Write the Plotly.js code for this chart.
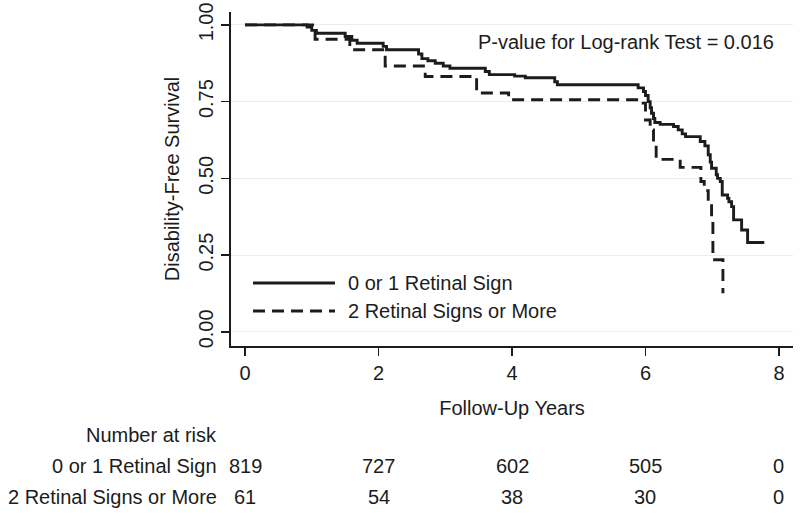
<!DOCTYPE html>
<html>
<head>
<meta charset="utf-8">
<script src="https://cdn.plot.ly/plotly-3.0.1.min.js"></script>
<style>
  html, body { margin: 0; padding: 0; background: #ffffff; }
  #chart { width: 800px; height: 516px; }
</style>
</head>
<body>
<div id="chart"></div>
<script>
// ---- Data ----
var groupNames = ["0 or 1 Retinal Sign", "2 Retinal Signs or More"];

// Kaplan-Meier step points: group 0 or 1 retinal sign
var timeLow = [0, 0.93, 1.0, 1.07, 1.5, 1.6, 1.68, 2.07, 2.12, 2.6, 2.65, 2.74, 2.85, 2.97, 3.07,
               3.6, 3.66, 4.04, 4.2, 4.64, 4.68, 5.89, 5.97, 6.0, 6.04, 6.07, 6.09, 6.12, 6.14,
               6.22, 6.42, 6.49, 6.55, 6.6, 6.82, 6.89, 6.94, 6.97, 6.99, 7.06, 7.08, 7.12, 7.15,
               7.23, 7.25, 7.29, 7.32, 7.44, 7.53, 7.78];
var survLow = [1.0, 0.993, 0.982, 0.973, 0.962, 0.95, 0.94, 0.93, 0.919, 0.905, 0.89, 0.883, 0.875, 0.866, 0.859,
               0.848, 0.838, 0.833, 0.828, 0.815, 0.805, 0.795, 0.783, 0.77, 0.75, 0.73, 0.712, 0.695, 0.682,
               0.676, 0.669, 0.658, 0.645, 0.636, 0.62, 0.606, 0.577, 0.553, 0.533, 0.512, 0.5, 0.49, 0.446,
               0.435, 0.424, 0.408, 0.365, 0.332, 0.291, 0.291];

// Kaplan-Meier step points: group 2 retinal signs or more
var timeHigh = [0, 1.05, 1.57, 2.10, 2.70, 3.47, 3.95, 5.94, 6.0, 6.07, 6.12, 6.16, 6.52,
                6.83, 6.88, 6.94, 6.99, 7.01, 7.16];
var survHigh = [1.0, 0.953, 0.919, 0.866, 0.832, 0.778, 0.756, 0.745, 0.69, 0.658, 0.615, 0.562, 0.536,
                0.49, 0.46, 0.42, 0.36, 0.235, 0.126];

// Number at risk table
var riskTimes = [0, 2, 4, 6, 8];
var riskLow = [819, 727, 602, 505, 0];
var riskHigh = [61, 54, 38, 30, 0];

var pValueText = "P-value for Log-rank Test = 0.016";
var xTitle = "Follow-Up Years";
var yTitle = "Disability-Free Survival";
var riskTitle = "Number at risk";

// ---- Layout geometry (pixels) ----
var W = 800, H = 516;
var mL = 231, mR = 7, mT = 12, mB = 170;
var pw = W - mL - mR, ph = H - mT - mB;
function px2paperX(px) { return (px - mL) / pw; }
function px2paperY(py) { return (H - mB - py) / ph; }

var FONT = "Liberation Sans, Arial, Helvetica, sans-serif";
var INK = "#1c1c1c";

var traces = [
  {
    x: timeLow, y: survLow, type: "scatter", mode: "lines", name: groupNames[0],
    line: { shape: "hv", color: INK, width: 2.9 }, showlegend: false, hoverinfo: "x+y"
  },
  {
    x: timeHigh, y: survHigh, type: "scatter", mode: "lines", name: groupNames[1],
    line: { shape: "hv", color: INK, width: 2.9, dash: "12px,7px" }, showlegend: false, hoverinfo: "x+y"
  }
];

var annotations = [];
annotations.push({
  xref: "paper", yref: "paper", x: px2paperX(776), y: px2paperY(42),
  xanchor: "right", yanchor: "middle", showarrow: false, text: pValueText,
  font: { family: FONT, size: 20, color: INK }
});
// legend texts
annotations.push({
  xref: "paper", yref: "paper", x: px2paperX(346), y: px2paperY(283),
  xanchor: "left", yanchor: "middle", showarrow: false, text: groupNames[0],
  font: { family: FONT, size: 20, color: INK }
});
annotations.push({
  xref: "paper", yref: "paper", x: px2paperX(346), y: px2paperY(311),
  xanchor: "left", yanchor: "middle", showarrow: false, text: groupNames[1],
  font: { family: FONT, size: 20, color: INK }
});
// risk table
annotations.push({
  xref: "paper", yref: "paper", x: px2paperX(219), y: px2paperY(435),
  xanchor: "right", yanchor: "middle", showarrow: false, text: riskTitle,
  font: { family: FONT, size: 20, color: INK }
});
annotations.push({
  xref: "paper", yref: "paper", x: px2paperX(219), y: px2paperY(466),
  xanchor: "right", yanchor: "middle", showarrow: false, text: groupNames[0],
  font: { family: FONT, size: 20, color: INK }
});
annotations.push({
  xref: "paper", yref: "paper", x: px2paperX(219), y: px2paperY(497),
  xanchor: "right", yanchor: "middle", showarrow: false, text: groupNames[1],
  font: { family: FONT, size: 20, color: INK }
});
for (var i = 0; i < riskTimes.length; i++) {
  annotations.push({
    xref: "x", yref: "paper", x: riskTimes[i], y: px2paperY(466),
    xanchor: "center", yanchor: "middle", showarrow: false, text: String(riskLow[i]),
    font: { family: FONT, size: 20, color: INK }
  });
  annotations.push({
    xref: "x", yref: "paper", x: riskTimes[i], y: px2paperY(497),
    xanchor: "center", yanchor: "middle", showarrow: false, text: String(riskHigh[i]),
    font: { family: FONT, size: 20, color: INK }
  });
}

var shapes = [
  { type: "line", xref: "paper", yref: "paper",
    x0: px2paperX(253), x1: px2paperX(335), y0: px2paperY(283), y1: px2paperY(283),
    line: { color: INK, width: 2.9 } },
  { type: "line", xref: "paper", yref: "paper",
    x0: px2paperX(253), x1: px2paperX(335), y0: px2paperY(311), y1: px2paperY(311),
    line: { color: INK, width: 2.9, dash: "12px,7px" } }
];

var layout = {
  width: W, height: H,
  margin: { l: mL, r: mR, t: mT, b: mB, pad: 0 },
  paper_bgcolor: "#ffffff", plot_bgcolor: "#ffffff",
  showlegend: false,
  font: { family: FONT, size: 20, color: INK },
  xaxis: {
    range: [-0.21, 8.21], tick0: 0, dtick: 2, showgrid: false, zeroline: false,
    showline: true, linecolor: INK, linewidth: 2,
    ticks: "outside", ticklen: 8, tickwidth: 1.6, tickcolor: INK,
    tickfont: { family: FONT, size: 20, color: INK },
    title: { text: xTitle, font: { family: FONT, size: 20, color: INK }, standoff: 18 },
    automargin: false, fixedrange: true
  },
  yaxis: {
    range: [-0.046, 1.042], tickvals: [0, 0.25, 0.5, 0.75, 1], tickformat: ".2f",
    tickangle: -90, showgrid: true, gridcolor: "#e9edf0", gridwidth: 1, zeroline: false,
    showline: true, linecolor: INK, linewidth: 2,
    ticks: "outside", ticklen: 8, tickwidth: 1.6, tickcolor: INK,
    tickfont: { family: FONT, size: 20, color: INK },
    title: { text: yTitle, font: { family: FONT, size: 20, color: INK }, standoff: 10 },
    automargin: false, fixedrange: true
  },
  annotations: annotations,
  shapes: shapes
};

Plotly.newPlot("chart", traces, layout, { displayModeBar: false, staticPlot: true });
</script>
</body>
</html>
